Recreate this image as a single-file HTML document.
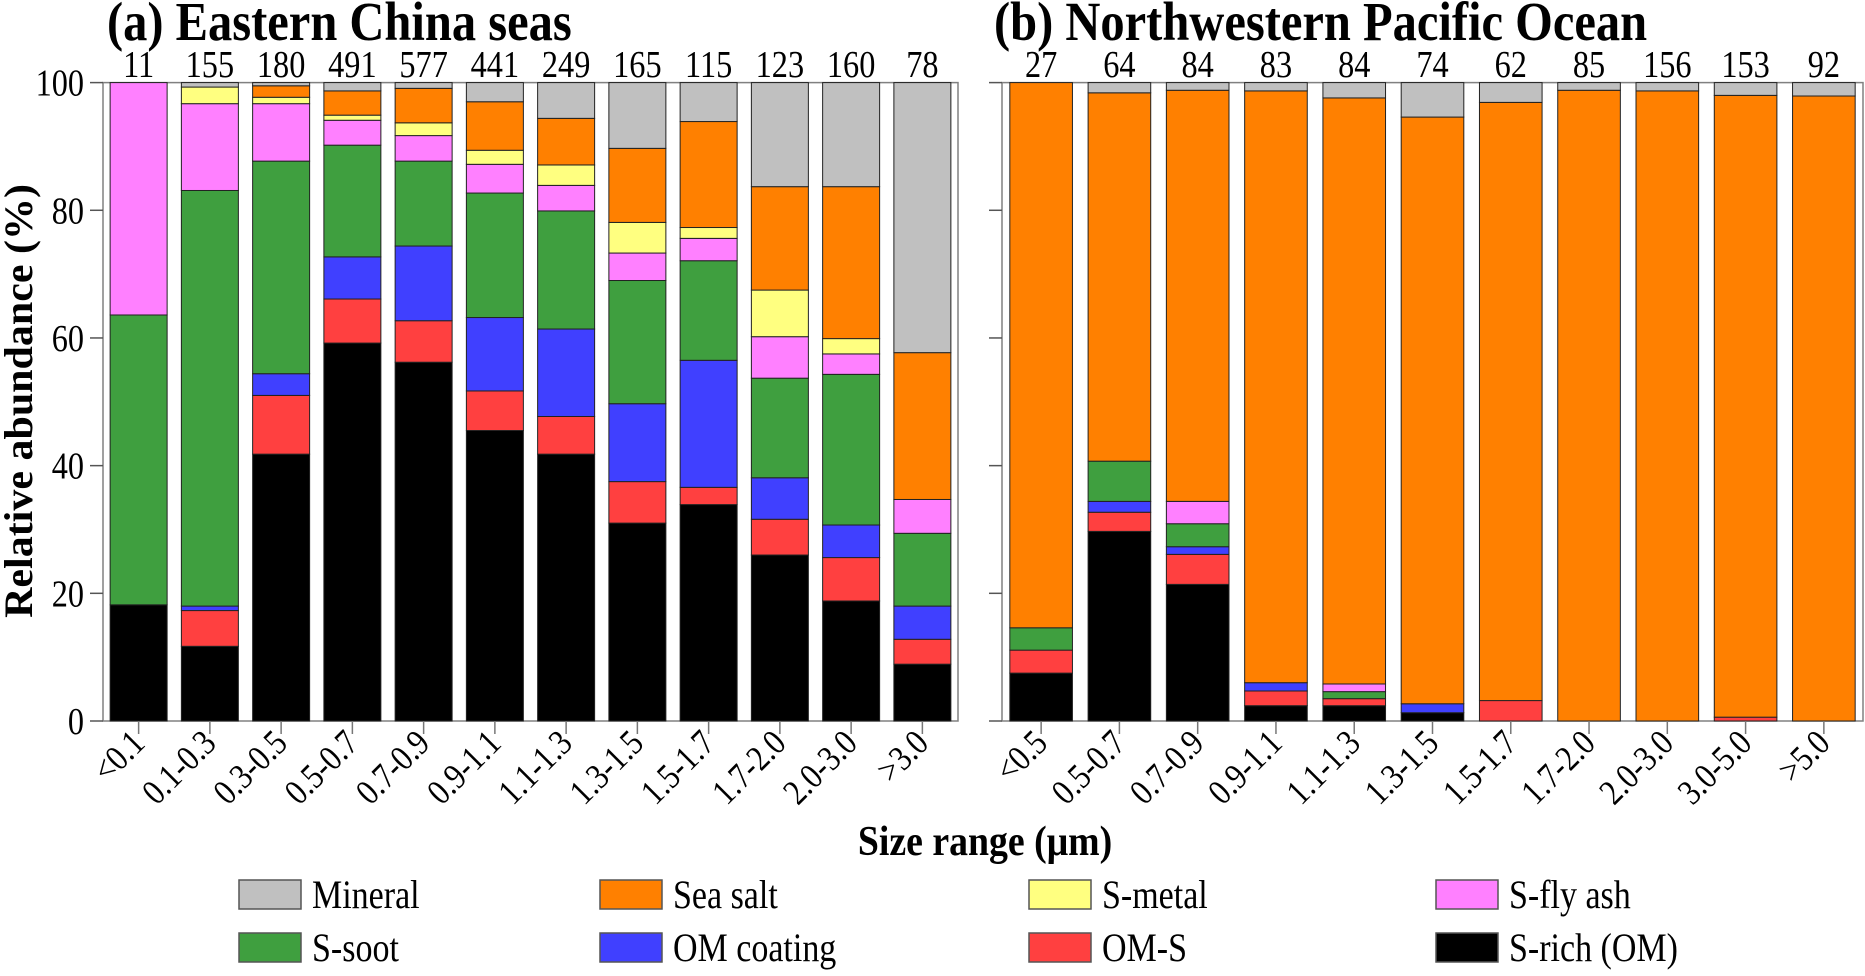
<!DOCTYPE html>
<html><head><meta charset="utf-8"><style>
html,body{margin:0;padding:0;background:#fff;}
svg, svg text{font-family:"Liberation Serif","Times New Roman",serif;}
</style></head><body>
<svg id="chart" width="1865" height="971" viewBox="0 0 1865 971" font-family="Liberation Serif, serif">
<text transform="translate(107,40) scale(0.97,1.1)" font-size="50" font-weight="bold" font-family="Liberation Serif, serif">(a) Eastern China seas</text>
<text transform="translate(994,40) scale(0.97,1.1)" font-size="50" font-weight="bold" font-family="Liberation Serif, serif">(b) Northwestern Pacific Ocean</text>
<text transform="translate(32,401) rotate(-90) scale(1,0.95)" text-anchor="middle" font-size="42" font-weight="bold" font-family="Liberation Serif, serif">Relative abundance (%)</text>
<text transform="translate(985,855) scale(0.9,1)" text-anchor="middle" font-size="42" font-weight="bold" font-family="Liberation Serif, serif">Size range (μm)</text>
<g id="plots"></g>
<g id="legend"></g>
</svg>
<script>
const seriesNames = ["S-rich (OM)","OM-S","OM coating","S-soot","S-fly ash","S-metal","Sea salt","Mineral"];
const seriesColors = ["#000000","#ff4040","#4040ff","#3f9f3f","#ff80ff","#ffff80","#ff8000","#c0c0c0"];
// Panel a
const catsA = ["<0.1","0.1-0.3","0.3-0.5","0.5-0.7","0.7-0.9","0.9-1.1","1.1-1.3","1.3-1.5","1.5-1.7","1.7-2.0","2.0-3.0",">3.0"];
const countsA = [11,155,180,491,577,441,249,165,115,123,160,78];
const sRichA   = [18.2,11.7,41.8,59.2,56.2,45.5,41.8,31.0,33.9,26.0,18.8,8.9];
const omSA     = [0,5.6,9.2,6.9,6.5,6.2,5.9,6.5,2.7,5.6,6.8,3.9];
const omCoatA  = [0,0.7,3.4,6.6,11.7,11.5,13.7,12.2,19.9,6.5,5.1,5.2];
const sSootA   = [45.4,65.1,33.3,17.5,13.3,19.5,18.5,19.3,15.6,15.6,23.6,11.4];
const flyAshA  = [36.4,13.6,9.0,3.9,4.0,4.5,4.0,4.3,3.5,6.5,3.2,5.3];
const sMetalA  = [0,2.6,1.0,0.8,2.0,2.2,3.2,4.8,1.7,7.3,2.4,0];
const seaSaltA = [0,0,1.8,3.8,5.4,7.6,7.3,11.6,16.6,16.2,23.8,23.0];
const mineralA = [0,0.7,0.5,1.3,0.9,3.0,5.6,10.3,6.1,16.3,16.3,42.3];
// Panel b
const catsB = ["<0.5","0.5-0.7","0.7-0.9","0.9-1.1","1.1-1.3","1.3-1.5","1.5-1.7","1.7-2.0","2.0-3.0","3.0-5.0",">5.0"];
const countsB = [27,64,84,83,84,74,62,85,156,153,92];
const sRichB   = [7.5,29.7,21.4,2.4,2.4,1.3,0,0,0,0,0];
const omSB     = [3.6,3.0,4.7,2.3,1.1,0,3.2,0,0,0.6,0];
const omCoatB  = [0,1.7,1.2,1.3,0,1.4,0,0,0,0,0];
const sSootB   = [3.5,6.3,3.6,0,1.1,0,0,0,0,0,0];
const flyAshB  = [0,0,3.5,0,1.2,0,0,0,0,0,0];
const sMetalB  = [0,0,0,0,0,0,0,0,0,0,0];
const seaSaltB = [85.4,57.7,64.4,92.7,91.8,91.9,93.7,98.8,98.7,97.4,97.9];
const mineralB = [0,1.6,1.2,1.3,2.4,5.4,3.1,1.2,1.3,2.0,2.1];
const yTicks = [0,20,40,60,80,100];

const NS="http://www.w3.org/2000/svg";
const FONT="Liberation Serif, serif";
const plots=document.getElementById('plots');
const yTop=82.6, yBot=721;
function yScale(v){return yBot-(v/100)*(yBot-yTop);}
function mk(tag,attrs,parent){const e=document.createElementNS(NS,tag);for(const k in attrs)e.setAttribute(k,attrs[k]);if(tag==='text')e.setAttribute('font-family',FONT);parent.appendChild(e);return e;}

function panel(key,x0,x1,cats,counts,series,showLabels){
  const g=mk('g',{},plots);
  
  
  const n=cats.length, slot=(x1-x0)/n, bw=slot*0.8;
  function xc(i){return x0+slot*(i+0.5);}
  const fr=mk('rect',{x:x0,y:yTop,width:x1-x0,height:yBot-yTop,fill:'none',stroke:'#808080','stroke-width':1.5},g);
  
  
  yTicks.forEach(t=>{
    const l=mk('line',{x1:x0-13,x2:x0,y1:yScale(t),y2:yScale(t),stroke:'#555','stroke-width':1.5},g);
    
    
    if(showLabels){
      const tx=mk('text',{transform:`translate(${x0-19},${yScale(t)+13}) scale(0.85,1)`,'text-anchor':'end','font-size':38},g);
      tx.textContent=t;
      
      
    }
  });
  cats.forEach((c,i)=>{
    let cum=0;
    series.forEach((arr,s)=>{
      const v=arr[i]; if(v<=0){return;}
      const yA=yScale(cum+v), yB=yScale(cum);
      const r=mk('rect',{x:xc(i)-bw/2,y:yA,width:bw,height:yB-yA,fill:seriesColors[s],stroke:'#222','stroke-width':1},g);
      
      
      cum+=v;
    });
    const tk=mk('line',{x1:xc(i),x2:xc(i),y1:yBot,y2:yBot+13,stroke:'#777','stroke-width':1.5},g);
    
    
    const lb=mk('text',{transform:`translate(${xc(i)+8},${yBot+24}) rotate(-45) scale(0.85,1)`,'text-anchor':'end','font-size':36},g);
    lb.textContent=c;
    
    
    const ct=mk('text',{transform:`translate(${xc(i)},${77}) scale(0.85,1)`,'text-anchor':'middle','font-size':38},g);
    ct.textContent=counts[i];
    
    
  });
}
panel('a',103,958,catsA,countsA,[sRichA,omSA,omCoatA,sSootA,flyAshA,sMetalA,seaSaltA,mineralA],true);
panel('b',1002,1863,catsB,countsB,[sRichB,omSB,omCoatB,sSootB,flyAshB,sMetalB,seaSaltB,mineralB],false);

const legOrder=[7,6,5,4,3,2,1,0];
const legX=[239,600,1029,1436], legY=[880,933];
const leg=document.getElementById('legend');
legOrder.forEach((s,k)=>{
  const x=legX[k%4], y=legY[Math.floor(k/4)];
  const r=mk('rect',{x:x,y:y,width:62,height:29,fill:seriesColors[s],stroke:'#555','stroke-width':1.5},leg);
  
  
  const t=mk('text',{transform:`translate(${x+73},${y+28}) scale(0.85,1)`,'font-size':40},leg);
  t.textContent=seriesNames[s];
  
  
});
</script>
</body></html>
